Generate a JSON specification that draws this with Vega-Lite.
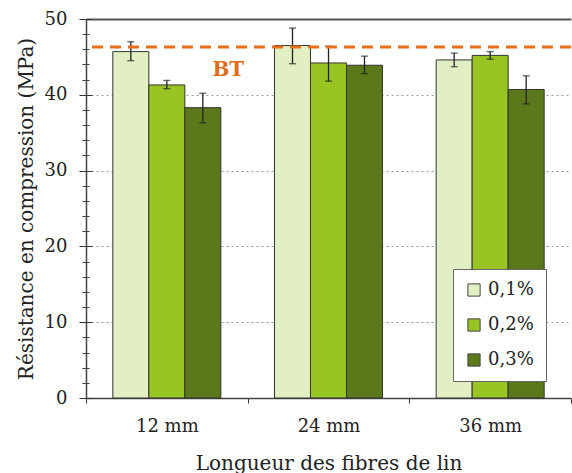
{
  "$schema": "https://vega.github.io/schema/vega-lite/v6.json",
  "width": 485,
  "height": 379,
  "autosize": "none",
  "padding": {"left": 86, "top": 19, "right": 1, "bottom": 75},
  "background": "white",
  "config": {
    "font": "DejaVu Serif",
    "view": {"stroke": null},
    "axis": {"labelColor": "#222", "titleColor": "#222", "titleFontWeight": "normal"}
  },
  "datasets": {
    "bars": [
      {"grp": "12 mm", "dose": "0,1%", "v": 45.7, "lo": 44.5, "hi": 47.0},
      {"grp": "12 mm", "dose": "0,2%", "v": 41.3, "lo": 40.8, "hi": 41.9},
      {"grp": "12 mm", "dose": "0,3%", "v": 38.3, "lo": 36.3, "hi": 40.2},
      {"grp": "24 mm", "dose": "0,1%", "v": 46.5, "lo": 44.1, "hi": 48.8},
      {"grp": "24 mm", "dose": "0,2%", "v": 44.2, "lo": 41.8, "hi": 46.4},
      {"grp": "24 mm", "dose": "0,3%", "v": 43.9, "lo": 42.8, "hi": 45.1},
      {"grp": "36 mm", "dose": "0,1%", "v": 44.6, "lo": 43.7, "hi": 45.5},
      {"grp": "36 mm", "dose": "0,2%", "v": 45.2, "lo": 44.7, "hi": 45.7},
      {"grp": "36 mm", "dose": "0,3%", "v": 40.7, "lo": 38.8, "hi": 42.5}
    ],
    "bt": [{"grp": "12 mm", "bt": 46.3, "label": "BT"}]
  },
  "layer": [
    {
      "data": {"name": "bars"},
      "mark": {"type": "bar", "stroke": "#333", "strokeWidth": 1},
      "encoding": {
        "x": {
          "field": "grp", "type": "nominal", "sort": ["12 mm", "24 mm", "36 mm"],
          "scale": {"paddingInner": 0, "paddingOuter": 0},
          "axis": {
            "title": "Longueur des fibres de lin", "labelAngle": 0, "tickBand": "extent",
            "tickSize": 5, "tickColor": "#333", "domainColor": "#444", "domainWidth": 1.5,
            "labelFontSize": 18, "titleFontSize": 20, "labelPadding": 14, "titlePadding": 18
          }
        },
        "xOffset": {
          "field": "dose", "type": "nominal", "sort": ["0,1%", "0,2%", "0,3%"],
          "scale": {"paddingInner": 0, "paddingOuter": 0.745}
        },
        "y": {
          "field": "v", "type": "quantitative",
          "scale": {"domain": [0, 50], "nice": false},
          "axis": {
            "title": "Résistance en compression (MPa)", "values": [0, 10, 20, 30, 40, 50],
            "tickSize": 7, "tickColor": "#333", "domainColor": "#444", "domainWidth": 1.5,
            "labelFontSize": 18, "labelPadding": 12, "titleFontSize": 20, "titlePadding": 8,
            "grid": true, "gridColor": "#999", "gridDash": [2, 3], "gridWidth": 1
          }
        },
        "color": {
          "field": "dose", "type": "nominal",
          "scale": {"domain": ["0,1%", "0,2%", "0,3%"], "range": ["#e2efc3", "#98c424", "#5b781b"]},
          "legend": {
            "orient": "none", "legendX": 367, "legendY": 250, "title": null,
            "symbolType": "square", "symbolSize": 150, "symbolStrokeColor": "#444",
            "symbolStrokeWidth": 1, "labelFontSize": 18, "labelColor": "#222",
            "padding": 12, "rowPadding": 17, "strokeColor": "#666", "fillColor": "white",
            "labelOffset": 5
          }
        }
      }
    },
    {
      "data": {"name": "bars"},
      "mark": {"type": "rule", "color": "#222", "strokeWidth": 1.3},
      "encoding": {
        "x": {"field": "grp", "type": "nominal", "sort": ["12 mm", "24 mm", "36 mm"], "axis": null},
        "xOffset": {"field": "dose", "type": "nominal", "sort": ["0,1%", "0,2%", "0,3%"]},
        "y": {
          "field": "lo", "type": "quantitative",
          "axis": {
            "orient": "left", "values": [0, 10, 20, 30, 40, 50], "offset": -6, "tickSize": 6,
            "tickColor": "#333", "domain": false, "labels": false, "grid": false, "title": null
          }
        },
        "y2": {"field": "hi"}
      }
    },
    {
      "data": {"name": "bars"},
      "mark": {"type": "tick", "color": "#222", "thickness": 1.3, "size": 7},
      "encoding": {
        "x": {"field": "grp", "type": "nominal", "sort": ["12 mm", "24 mm", "36 mm"], "axis": null},
        "xOffset": {"field": "dose", "type": "nominal", "sort": ["0,1%", "0,2%", "0,3%"]},
        "y": {
          "field": "lo", "type": "quantitative",
          "axis": {
            "orient": "left", "values": [2, 4, 6, 8, 12, 14, 16, 18, 22, 24, 26, 28, 32, 34, 36, 38, 42, 44, 46, 48],
            "offset": -3, "tickSize": 7, "tickColor": "#444", "domain": false, "labels": false,
            "grid": false, "title": null
          }
        }
      }
    },
    {
      "data": {"name": "bars"},
      "mark": {"type": "tick", "color": "#222", "thickness": 1.3, "size": 7},
      "encoding": {
        "x": {"field": "grp", "type": "nominal", "sort": ["12 mm", "24 mm", "36 mm"], "axis": null},
        "xOffset": {"field": "dose", "type": "nominal", "sort": ["0,1%", "0,2%", "0,3%"]},
        "y": {"field": "hi", "type": "quantitative", "axis": null}
      }
    },
    {
      "data": {"name": "bt"},
      "mark": {"type": "rule", "color": "#e8701a", "strokeWidth": 3, "strokeDash": [11, 7]},
      "encoding": {
        "y": {"field": "bt", "type": "quantitative", "axis": null}
      }
    },
    {
      "data": {"name": "bt"},
      "mark": {"type": "text", "color": "#e06c1c", "fontWeight": "bold", "fontSize": 20, "baseline": "middle", "dy": 23},
      "encoding": {
        "x": {
          "field": "grp", "type": "nominal", "sort": ["12 mm", "24 mm", "36 mm"], "bandPosition": 0.88,
          "axis": {
            "orient": "top", "labels": false, "ticks": false, "domain": true, "domainColor": "#555",
            "domainWidth": 2, "title": null, "grid": false
          }
        },
        "y": {"field": "bt", "type": "quantitative", "axis": null},
        "text": {"field": "label"}
      }
    }
  ],
  "resolve": {"axis": {"x": "independent", "y": "independent"}}
}
